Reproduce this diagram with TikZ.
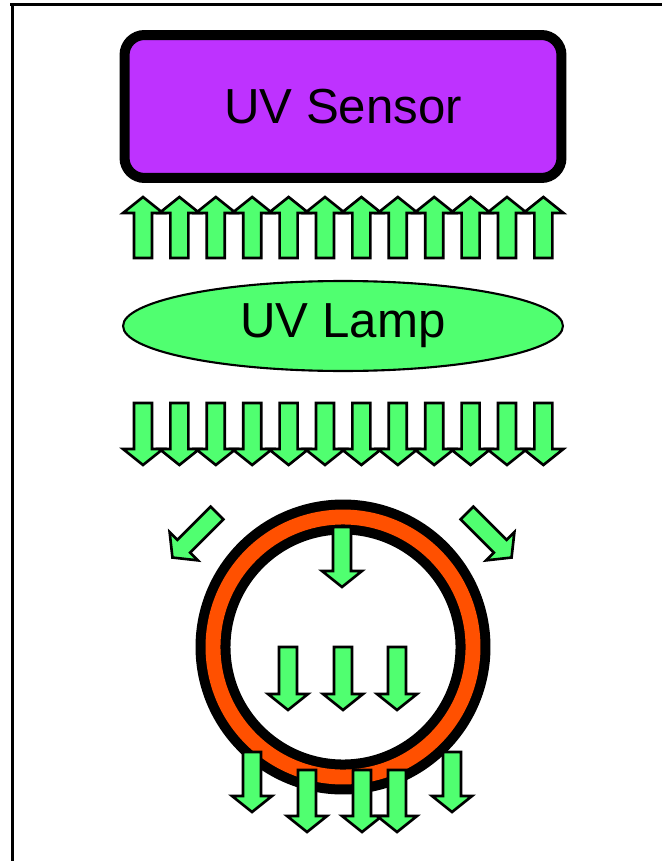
\documentclass[tikz,border=0pt]{standalone}
\usepackage{fontspec}
\setmainfont{Liberation Sans}
\usetikzlibrary{shapes.geometric,positioning}

\definecolor{sensorpurple}{RGB}{190,50,255}
\definecolor{raygreen}{RGB}{80,255,112}
\definecolor{tubeorange}{RGB}{255,80,0}

\begin{document}
\begin{tikzpicture}[x=0.02cm, y=-0.02cm,
  sensorbox/.style={draw, line width=5.7pt, rounded corners=0.4cm, fill=sensorpurple,
    minimum width=8.74cm, minimum height=2.86cm, font=\fontsize{28}{33}\selectfont},
  lampbox/.style={ellipse, draw, line width=1.2pt, fill=raygreen, inner sep=0pt,
    minimum width=8.8cm, minimum height=1.8cm, font=\fontsize{28}{33}\selectfont},
  rayline/.style={draw=black, line width=1.5pt, fill=raygreen, line join=miter},
  pics/ray/.style={code={\path[rayline] (0,-9) -- ({#1-16},-9) -- ({#1-16},-20) -- (#1,0)
    -- ({#1-16},20) -- ({#1-16},9) -- (0,9) -- cycle;}}]
\useasboundingbox (0,0) rectangle (662,861);
% frame
\draw[line width=1.4pt] (10,4.5) -- (662,4.5);
\draw[line width=1.4pt] (12.5,4) -- (12.5,861);

\node[sensorbox] (sensor) at (343,106.5) {UV Sensor};
\node[lampbox] (lamp) at (343,326) {UV Lamp};

% rays from lamp
\foreach \i in {0,...,11} \pic[rotate=90] at ({143+36.4*\i},258) {ray=61};
\foreach \i in {0,...,11} \pic[rotate=-90] at ({143+36.4*\i},403) {ray=62};
\pic[rotate=-135] at (217,513) {ray=63};
\pic[rotate=-45] at (467,513) {ray=63};

% tube
\coordinate (tube) at (343,647);
\draw[line width=19.9pt] (tube) circle (130);
\draw[line width=8.5pt, tubeorange] (tube) circle (130);

\pic[rotate=-90] at (342,527) {ray=60};
\foreach \x in {288,343,397} \pic[rotate=-90] at (\x,647) {ray=63};
\foreach \x/\y/\l in {252/752/60, 307/770/62, 362/770/62, 397/770/62, 452/752/60}
  \pic[rotate=-90] at (\x,\y) {ray=\l};
\end{tikzpicture}
\end{document}
